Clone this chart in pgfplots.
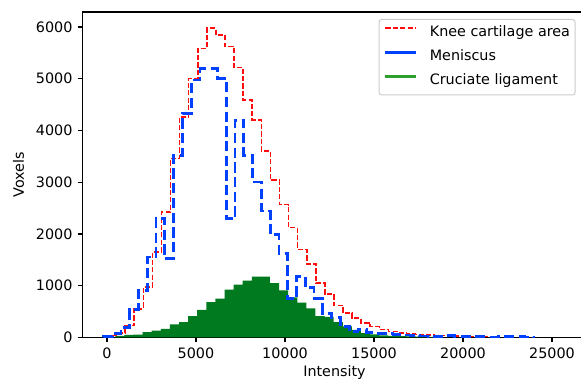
\documentclass[border=0pt]{standalone}
\usepackage{fontspec}
\setmainfont{DejaVu Sans}
\usepackage{pgfplots}
\pgfplotsset{compat=1.18}
\usepackage{pgfplotstable}

\definecolor{kneered}{rgb}{1,0.05,0.05}
\definecolor{menblue}{RGB}{0,64,255}
\definecolor{crugreen}{RGB}{0,122,30}
\definecolor{legreen}{RGB}{44,160,44}
\definecolor{legframe}{RGB}{204,204,204}

% Knee cartilage area: bin left edge, count (step outline)
\pgfplotstableread{
x y
0 0
0 39
510 84
1020 232
1530 555
2040 974
2550 1651
3060 2425
3570 3458
4080 4264
4590 5007
5100 5587
5610 5975
6120 5845
6630 5620
7140 5220
7650 4587
8160 4200
8670 3605
9180 3038
9690 2568
10200 2123
10710 1703
11220 1426
11730 1051
12240 846
12750 619
13260 470
13770 374
14280 284
14790 213
15300 155
15810 116
16320 91
16830 65
17340 55
17850 45
18360 40
18870 35
19380 30
19890 28
20400 22
20910 18
21420 12
21930 0
}\kneetable

% Meniscus
\pgfplotstableread{
x y
-200 0
-200 25
293 72
786 200
1279 540
1772 910
2265 1554
2758 2297
3251 1523
3744 3522
4237 4329
4730 4974
5223 5200
5716 5200
6209 5007
6702 2297
7195 4200
7688 3522
8181 3006
8674 2445
9167 1988
9660 1620
10153 749
10646 1180
11139 960
11632 749
12125 470
12618 380
13111 210
13604 110
14097 150
14590 97
15083 75
15576 70
16069 60
16562 50
17055 40
17548 30
18041 25
18534 25
19027 40
19520 20
20013 18
20506 15
20999 12
21492 10
21985 12
22478 15
22971 12
23464 10
23957 0
}\mentable

% Cruciate ligament
\pgfplotstableread{
x y
470 0
470 30
981 50
1492 55
2003 103
2514 135
3025 168
3536 252
4047 296
4558 412
5069 536
5580 683
6091 749
6602 923
7113 1020
7624 1100
8135 1175
8646 1175
9157 1051
9668 910
10179 775
10690 675
11201 565
11712 412
12223 400
12734 296
13245 213
13756 149
14267 84
14778 58
15289 39
15800 30
16311 25
16822 20
17333 15
17844 12
18355 8
18866 0
}\crutable

\begin{document}
\begin{tikzpicture}
\path[use as bounding box] (0,0) rectangle (581bp,381bp);
\begin{axis}[
  at={(82.5bp,43.5bp)}, anchor=south west,
  scale only axis, width=500bp, height=325.5bp,
  xmin=-1376, xmax=26713, ymin=0, ymax=6290,
  xtick={0,5000,10000,15000,20000,25000},
  ytick={0,1000,2000,3000,4000,5000,6000},
  scaled ticks=false,
  /pgf/number format/.cd, 1000 sep={}, assume math mode=true,
  /pgfplots/.cd,
  axis line style={line width=1.1bp, black},
  tick style={line width=1.1bp, black},
  major tick length=4.9bp,
  tick align=outside,
  xtick pos=bottom, ytick pos=left,
  tick label style={font=\fontsize{14.4}{16}\selectfont, inner sep=0pt},
  xticklabel style={anchor=north, yshift=-4.9bp},
  yticklabel style={anchor=east, xshift=-4.9bp},
  label style={font=\fontsize{14.4}{16}\selectfont},
  xlabel={Intensity},
  ylabel={Voxels},
  xlabel style={at={(rel axis cs:0.5,0)}, anchor=base, xshift=2bp, yshift=-39bp, inner sep=0pt},
  ylabel style={at={(axis description cs:-0.128,0.5)}, anchor=center, rotate=0, inner sep=0pt},
  legend image code/.code={\draw[#1] (0bp,5bp) -- (31bp,5bp);},
  legend cell align=left,
  legend style={at={(1,1)}, anchor=north east, xshift=-7bp, yshift=-7bp,
    draw=legframe, line width=1bp, rounded corners=2.5bp,
    fill=white, fill opacity=0.8, text opacity=1,
    inner xsep=5bp, inner ysep=7bp, row sep=10.5bp,
    font=\fontsize{14.4}{16}\selectfont,
    nodes={inner sep=0bp, text height=10.5bp, text depth=3bp},
    /tikz/every odd column/.append style={column sep=12bp}},
]
\addlegendimage{kneered, line width=1.6bp, dash pattern=on 5.14bp off 2.22bp}
\addlegendentry{Knee cartilage area}
\addlegendimage{menblue, line width=2.78bp}
\addlegendentry{Meniscus}
\addlegendimage{legreen, line width=2.78bp}
\addlegendentry{Cruciate ligament}

\addplot[const plot, fill=crugreen, draw=none, forget plot] table[x=x,y=y] {\crutable};
\addplot[const plot, draw=kneered, line width=1.6bp, dash pattern=on 5.14bp off 2.22bp, forget plot] table[x=x,y=y] {\kneetable};
\addplot[const plot, draw=menblue, line width=2.78bp, dash pattern=on 10.28bp off 4.44bp, forget plot] table[x=x,y=y] {\mentable};
\end{axis}
\end{tikzpicture}
\end{document}
